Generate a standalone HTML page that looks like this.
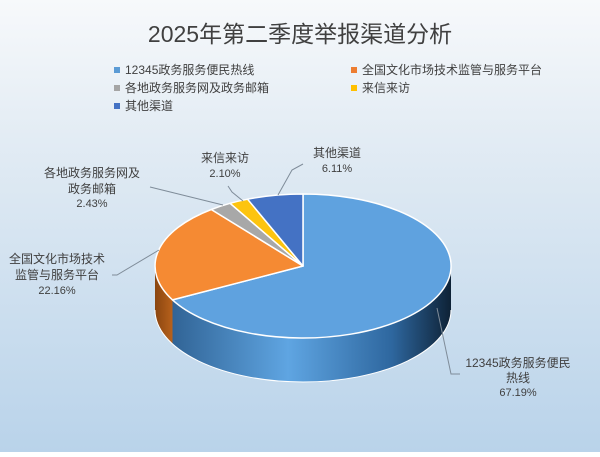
<!DOCTYPE html>
<html><head><meta charset="utf-8"><style>
html,body{margin:0;padding:0;}
body{width:600px;height:452px;overflow:hidden;}
text{font-family:"Liberation Sans","Noto Sans CJK SC",sans-serif;fill:#404040;}
</style></head><body>
<svg width="600" height="452" viewBox="0 0 600 452" xmlns="http://www.w3.org/2000/svg">
<defs>
<linearGradient id="bg" x1="0" y1="0" x2="0" y2="1">
<stop offset="0" stop-color="#f7f9fb"/><stop offset="0.3" stop-color="#e3ecf4"/><stop offset="1" stop-color="#b9d3ea"/>
</linearGradient>
<linearGradient id="side" x1="155" y1="0" x2="451" y2="0" gradientUnits="userSpaceOnUse">
<stop offset="0" stop-color="#2a5a8a"/><stop offset="0.45" stop-color="#5fa5e2"/><stop offset="0.8" stop-color="#2e679f"/><stop offset="1" stop-color="#0e2236"/>
</linearGradient>
<linearGradient id="oside" x1="155" y1="0" x2="173" y2="0" gradientUnits="userSpaceOnUse">
<stop offset="0" stop-color="#8a4510"/><stop offset="1" stop-color="#b8621c"/>
</linearGradient>
</defs>
<rect width="600" height="452" fill="url(#bg)"/>
<text x="300" y="42" font-size="23" text-anchor="middle" fill="#333">2025年第二季度举报渠道分析</text>
<g font-size="12">
<rect x="114" y="67" width="6" height="6" fill="#5b9bd5"/><text x="125" y="74">12345政务服务便民热线</text>
<rect x="351" y="67" width="6" height="6" fill="#ed7d31"/><text x="362" y="74">全国文化市场技术监管与服务平台</text>
<rect x="114" y="85" width="6" height="6" fill="#a5a5a5"/><text x="125" y="92">各地政务服务网及政务邮箱</text>
<rect x="351" y="85" width="6" height="6" fill="#ffc000"/><text x="362" y="92">来信来访</text>
<rect x="114" y="103" width="6" height="6" fill="#4472c4"/><text x="125" y="110">其他渠道</text>
</g>
<!-- sides -->
<path d="M451,266 A148,72 0 0 1 172.5,299.9 L172.5,343.9 A148,72 0 0 0 451,310 Z" fill="url(#side)"/>
<path d="M172.5,299.9 A148,72 0 0 1 155,266 L155,310 A148,72 0 0 0 172.5,343.9 Z" fill="url(#oside)"/>
<path d="M451,310 A148,72 0 0 1 155,310" fill="none" stroke="#fff" stroke-width="1"/>
<!-- top -->
<g stroke="#fff" stroke-width="1.5" stroke-linejoin="round">
<path d="M303,266 L303,194 A148,72 0 1 1 172.5,299.9 Z" fill="#5fa2df"/>
<path d="M303,266 L172.5,299.9 A148,72 0 0 1 211.3,209.5 Z" fill="#f58a33"/>
<path d="M303,266 L211.3,209.5 A148,72 0 0 1 230.1,203.3 Z" fill="#a8a8a8"/>
<path d="M303,266 L230.1,203.3 A148,72 0 0 1 247.6,199.2 Z" fill="#fdc40f"/>
<path d="M303,266 L247.6,199.2 A148,72 0 0 1 303,194 Z" fill="#4472c4"/>
</g>
<!-- leader lines -->
<g stroke="#7f8c99" stroke-width="1" fill="none">
<polyline points="278,195 292,170 303,164"/>
<polyline points="243,201 232,192 228,186"/>
<polyline points="223,205 150,187"/>
<polyline points="159,250 117,275 112,275"/>
<polyline points="437,308 451,374 460,374"/>
</g>
<g font-size="12" text-anchor="middle">
<text x="337" y="157">其他渠道</text><text x="337" y="172" font-size="11">6.11%</text>
<text x="225" y="162">来信来访</text><text x="225" y="177" font-size="11">2.10%</text>
<text x="92" y="177">各地政务服务网及</text><text x="92" y="193">政务邮箱</text><text x="92" y="207" font-size="11">2.43%</text>
<text x="57" y="263">全国文化市场技术</text><text x="57" y="279">监管与服务平台</text><text x="57" y="294" font-size="11">22.16%</text>
<text x="518" y="367">12345政务服务便民</text><text x="518" y="382">热线</text><text x="518" y="396" font-size="11">67.19%</text>
</g>
</svg>
</body></html>
